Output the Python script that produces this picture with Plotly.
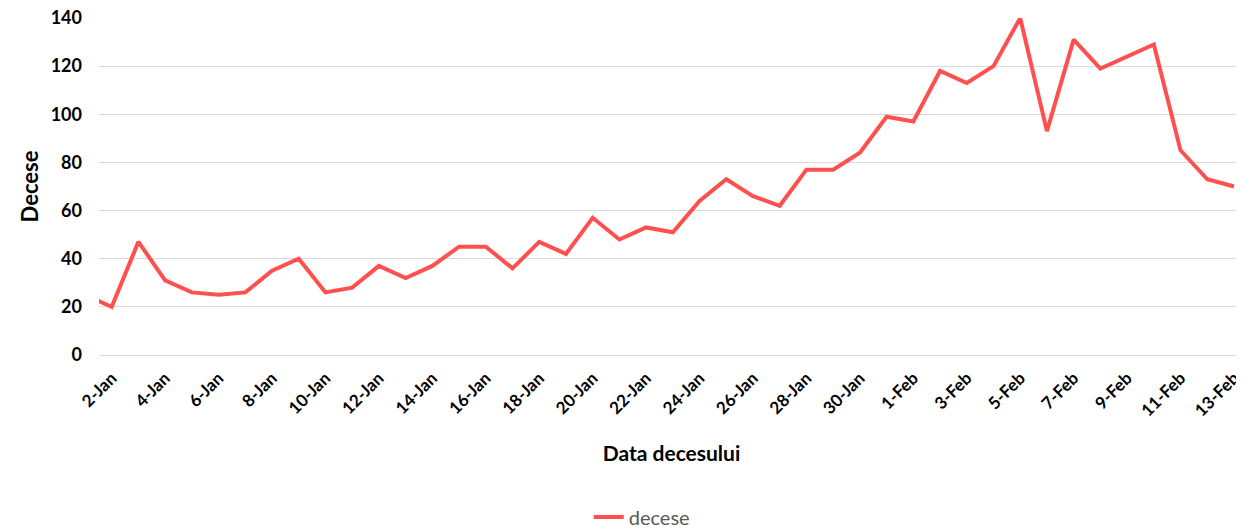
import plotly.graph_objects as go
import pandas as pd

dates = pd.date_range("2021-01-01", "2021-02-13", freq="D")
deaths = [25, 20, 47, 31, 26, 25, 26, 35, 40, 26, 28, 37, 32, 37, 45, 45, 36, 47, 42, 57,
          48, 53, 51, 64, 73, 66, 62, 77, 77, 84, 99, 97, 118, 113, 120, 140, 93, 131, 119,
          124, 129, 85, 73, 70]
y_ticks = [0, 20, 40, 60, 80, 100, 120, 140]

FONT = "Lato"

fig = go.Figure()
fig.add_trace(go.Scatter(
    x=dates, y=deaths, mode="lines", name="decese",
    line=dict(color="#FF5050", width=4),
))

# the page body adds an 8px margin, so the figure sits at (8, 8)
fig.update_layout(
    width=1236, height=521,
    margin=dict(l=91, r=0, t=10, b=174),
    plot_bgcolor="white", paper_bgcolor="white",
    font=dict(family=FONT, color="black"),
    showlegend=True,
    legend=dict(orientation="h", x=0.474, xanchor="center",
                yref="container", y=0.023, yanchor="middle",
                font=dict(family=FONT, size=20, color="#595959")),
    xaxis=dict(
        type="date", automargin=False, ticklabeloverflow="allow",
        range=["2021-01-01 12:36", "2021-02-13 09:00"],
        tick0="2021-01-02", dtick=2 * 86400000, tickformat="%-d-%b",
        tickangle=-45, showgrid=False, showline=False, zeroline=False,
        tickfont=dict(family=FONT, size=17, color="black", weight="bold"),
        ticklabelstandoff=9,
        title=dict(text="Data decesului", standoff=27,
                   font=dict(family=FONT, size=21, color="black", weight="bold")),
        ticks="", ticklen=0,
    ),
    yaxis=dict(
        range=[0, 140], tickvals=y_ticks, automargin=False, ticklabeloverflow="allow",
        showgrid=True, gridcolor="#D9D9D9", gridwidth=1,
        zeroline=True, zerolinecolor="#D9D9D9", zerolinewidth=1,
        showline=False, ticks="",
        ticklabelstandoff=16,
        tickfont=dict(family=FONT, size=18, color="black", weight="bold"),
        title=dict(text="Decese", standoff=5,
                   font=dict(family=FONT, size=22, color="black", weight="bold")),
    ),
)

fig.write_html("out.html")
